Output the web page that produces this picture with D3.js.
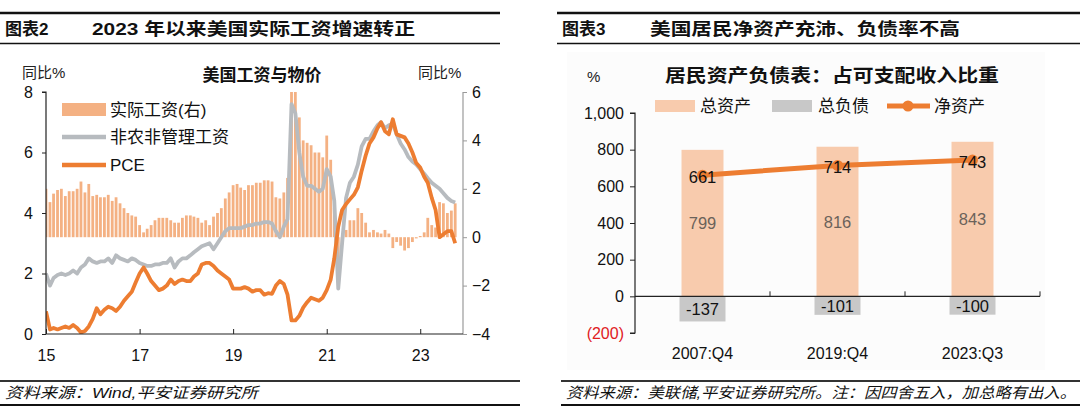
<!DOCTYPE html>
<html><head><meta charset="utf-8">
<script src="https://cdn.jsdelivr.net/npm/d3@7"></script>
<style>
html,body{margin:0;padding:0;background:#fff;}
svg text{font-family:"Liberation Sans","Noto Sans CJK SC",sans-serif;}
</style></head>
<body><svg id="c" width="1080" height="417"></svg>
<script>
// ---------- Left chart data (monthly, Jan 2015 – Oct 2023) ----------
const startMonth = "2015-01";
const pce = [0.75,0.15,0.2,0.15,0.2,0.25,0.2,0.3,0.2,0.05,0.1,0.25,
0.5,0.85,0.65,0.8,0.9,0.85,0.76,0.9,1.1,1.25,1.4,1.7,
2.0,2.2,2.0,1.75,1.6,1.45,1.5,1.6,1.8,1.65,1.75,1.8,
1.75,1.75,1.9,2.0,2.3,2.35,2.35,2.25,2.1,2.0,1.9,1.8,
1.5,1.5,1.5,1.55,1.5,1.4,1.45,1.45,1.3,1.35,1.33,1.6,
1.75,1.65,1.3,0.45,0.45,0.6,0.87,1.05,1.2,1.15,1.1,1.2,
1.45,1.8,2.5,3.55,4.1,4.3,4.45,4.6,4.85,5.4,5.9,6.3,
6.5,6.8,7.0,6.7,6.6,7.1,6.6,6.55,6.5,6.3,6.0,5.65,
5.5,5.2,5.0,4.5,4.1,3.2,3.3,3.4,3.4,3.0];
const wage = [2.0,1.6,1.85,1.95,2.0,1.95,2.0,2.1,2.0,2.2,2.3,2.5,
2.4,2.35,2.4,2.4,2.5,2.35,2.6,2.5,2.45,2.4,2.5,2.45,
2.35,2.3,2.25,2.25,2.3,2.3,2.35,2.35,2.5,2.2,2.4,2.5,
2.5,2.6,2.7,2.8,2.9,2.95,3.0,2.8,3.0,3.2,3.4,3.5,
3.5,3.5,3.5,3.55,3.6,3.6,3.65,3.65,3.7,3.7,3.65,3.4,
3.2,3.55,3.8,7.6,7.3,6.0,5.2,4.9,4.9,4.8,4.7,4.8,
5.45,5.2,4.4,1.5,3.0,4.5,5.0,5.2,5.6,6.2,6.45,6.45,
6.7,6.9,7.0,6.8,6.9,6.95,6.6,6.3,6.1,5.85,5.7,5.6,
5.45,5.3,5.15,5.0,4.9,4.8,4.65,4.5,4.4,4.35];
const realWage = [2.0,1.45,1.8,1.95,2.0,1.7,1.9,1.9,2.0,2.3,1.85,2.2,
1.7,1.75,1.65,1.65,1.75,1.5,1.65,1.4,1.2,1.0,0.9,0.85,
0.5,0.2,0.35,0.5,0.7,0.8,0.8,0.8,0.7,0.6,0.6,0.8,
0.9,0.9,0.85,0.8,0.6,0.7,0.5,0.85,1.0,1.2,1.6,1.85,
2.15,2.2,2.05,1.95,2.15,2.15,2.25,2.25,2.35,2.35,2.3,1.65,
1.6,1.85,2.45,7.2,6.9,4.95,4.0,3.9,3.8,3.5,3.5,3.3,
4.2,3.2,1.2,-1.4,-0.3,0.3,0.7,0.7,1.2,1.0,0.6,0.2,
0.3,0.2,0.15,0.3,0.15,-0.45,-0.2,-0.35,-0.55,-0.45,-0.2,-0.05,
0.05,0.2,0.8,0.5,0.4,1.45,1.4,1.0,1.1,1.4];
const leftTicks = [0,2,4,6,8];
const rightTicks = [-4,-2,0,2,4,6];
const yearTicks = ["2015-01","2017-01","2019-01","2021-01","2023-01"];
const leftLegend = ["实际工资(右)","非农非管理工资","PCE"];

// ---------- Right chart data ----------
const cats = ["2007:Q4","2019:Q4","2023:Q3"];
const assets = [799,816,843];
const liabilities = [-137,-101,-100];
const netWorth = [661,714,743];
const rightYTicks = [-200,0,200,400,600,800,1000];
const rightLegend = ["总资产","总负债","净资产"];

const C_BAR = "#F4B183", C_GRAY = "#B7BBBF", C_ORANGE = "#ED7D31";
const C_PEACH = "#F8CBAD", C_LGRAY = "#C8C8C8";

const svg = d3.select("#c");
const parse = d3.timeParse("%Y-%m");
const months = d3.timeMonth.range(parse(startMonth), d3.timeMonth.offset(parse(startMonth), pce.length));

// ---------- Headers & footers ----------
function header(x0,x1,label,title,titleX,titleLen){
  svg.append("line").attr("x1",x0).attr("x2",x1).attr("y1",13).attr("y2",13).attr("stroke","#111").attr("stroke-width",2.5);
  svg.append("line").attr("x1",x0).attr("x2",x1).attr("y1",43.5).attr("y2",43.5).attr("stroke","#111").attr("stroke-width",1.5);
  svg.append("text").attr("x",x0+5).attr("y",35).attr("font-size",17).attr("font-weight","bold").attr("fill","#111").text(label);
  svg.append("text").attr("x",titleX).attr("y",35).attr("font-size",17).attr("font-weight","bold").attr("fill","#111")
    .attr("textLength",titleLen).attr("lengthAdjust","spacingAndGlyphs").text(title);
}
header(0,500,"图表2","2023 年以来美国实际工资增速转正",92,323);
header(557,1080,"图表3","美国居民净资产充沛、负债率不高",650,310);
function footer(x0,x1,text,len){
  svg.append("line").attr("x1",x0).attr("x2",x1).attr("y1",381).attr("y2",381).attr("stroke","#333").attr("stroke-width",1.8);
  svg.append("line").attr("x1",x0).attr("x2",x1).attr("y1",405).attr("y2",405).attr("stroke","#111").attr("stroke-width",2);
  svg.append("text").attr("x",x0+5).attr("y",398).attr("font-size",15).attr("font-style","italic").attr("fill","#111")
    .attr("textLength",len).attr("lengthAdjust","spacingAndGlyphs").text(text);
}
footer(0,520,"资料来源：Wind,平安证券研究所",253);
footer(561,1080,"资料来源：美联储,平安证券研究所。注：因四舍五入，加总略有出入。",510);

// ---------- Left chart ----------
const L = {x0:46,x1:463,y0:92,y1:334};
const x = d3.scaleTime().domain([parse("2015-01"),parse("2023-12")]).range([L.x0,L.x1]);
const yL = d3.scaleLinear().domain([0,8]).range([L.y1,L.y0]);
const yR = d3.scaleLinear().domain([-4,6]).range([L.y1,L.y0]);
const gL = svg.append("g");
svg.append("defs").append("clipPath").attr("id","clipL").append("rect")
  .attr("x",L.x0).attr("y",L.y0).attr("width",L.x1-L.x0).attr("height",L.y1-L.y0);

gL.append("text").attr("x",262).attr("y",81).attr("text-anchor","middle").attr("font-size",17).attr("font-weight","bold").attr("fill","#111").text("美国工资与物价");
gL.append("text").attr("x",22).attr("y",78).attr("font-size",15).attr("fill","#222").text("同比%");
gL.append("text").attr("x",418).attr("y",78).attr("font-size",15).attr("fill","#222").text("同比%");

const plotL = gL.append("g").attr("clip-path","url(#clipL)");
plotL.selectAll("rect.bar").data(realWage).join("rect").attr("class","bar")
  .attr("x",(d,i)=>x(months[i])-1.4).attr("width",2.8)
  .attr("y",d=>d>=0?yR(d):yR(0)).attr("height",d=>Math.abs(yR(d)-yR(0)))
  .attr("fill",C_BAR);
const line = arr => d3.line().x((d,i)=>x(months[i])).y(d=>yL(d))(arr);
plotL.append("path").attr("d",line(wage)).attr("fill","none").attr("stroke",C_GRAY).attr("stroke-width",3.8).attr("stroke-linejoin","round");
plotL.append("path").attr("d",line(pce)).attr("fill","none").attr("stroke",C_ORANGE).attr("stroke-width",3.8).attr("stroke-linejoin","round");

// axes
const axL = d3.axisLeft(yL).tickValues(leftTicks).tickSize(4).tickPadding(9).tickFormat(d3.format("d"));
const gAxL = gL.append("g").attr("transform",`translate(${L.x0},0)`).call(axL);
gAxL.select(".domain").attr("stroke","#222").attr("stroke-width",1.2).attr("d",`M-4,${L.y0}H0V${L.y1}`);
gAxL.selectAll("text").attr("font-size",16).attr("fill","#111");
gAxL.selectAll(".tick line").attr("stroke","#222");

const axR = d3.axisRight(yR).tickValues(rightTicks).tickSize(4).tickPadding(5).tickFormat(d3.format("d"));
const gAxR = gL.append("g").attr("transform",`translate(${L.x1},0)`).call(axR);
gAxR.select(".domain").attr("stroke","#9a9a9a").attr("stroke-width",1.2).attr("d",`M0,${L.y0}V${L.y1}`);
gAxR.selectAll("text").attr("font-size",16).attr("fill","#111");
gAxR.selectAll(".tick line").attr("stroke","#9a9a9a");

const axB = d3.axisBottom(x).tickValues(yearTicks.map(parse)).tickSize(-5).tickPadding(16).tickFormat(d3.timeFormat("%y"));
const gAxB = gL.append("g").attr("transform",`translate(0,${L.y1})`).call(axB);
gAxB.select(".domain").attr("stroke","#222").attr("stroke-width",1.2).attr("d",`M${L.x0},0H${L.x1}`);
gAxB.selectAll("text").attr("font-size",16).attr("fill","#111");
gAxB.selectAll(".tick line").attr("stroke","#222");

// legend
const lg = gL.append("g");
lg.append("rect").attr("x",62).attr("y",103).attr("width",44).attr("height",13).attr("fill",C_BAR);
lg.append("line").attr("x1",62).attr("x2",106).attr("y1",137).attr("y2",137).attr("stroke",C_GRAY).attr("stroke-width",4.5);
lg.append("line").attr("x1",62).attr("x2",106).attr("y1",165).attr("y2",165).attr("stroke",C_ORANGE).attr("stroke-width",4.5);
leftLegend.forEach((t,i)=>{
  lg.append("text").attr("x",110).attr("y",[116,143,171][i]).attr("font-size",17).attr("fill","#111").text(t);
});

// ---------- Right chart ----------
const R = {x0:635,x1:1040,y0:113,y1:333};
const xb = d3.scaleBand().domain(cats).range([R.x0,R.x1]).padding(0);
const yb = d3.scaleLinear().domain([-200,1000]).range([R.y1,R.y0]);
const gR = svg.append("g");
gR.append("rect").attr("x",567).attr("y",52).attr("width",478).attr("height",318).attr("fill","#FCFCFC");
gR.append("text").attr("x",587).attr("y",82).attr("font-size",15).attr("fill","#222").text("%");
gR.append("text").attr("x",832).attr("y",82).attr("text-anchor","middle").attr("font-size",18).attr("font-weight","bold").attr("fill","#111")
  .attr("textLength",334).attr("lengthAdjust","spacingAndGlyphs").text("居民资产负债表：占可支配收入比重");

const bw = 42, bw2 = 46;
gR.selectAll("rect.asset").data(assets).join("rect").attr("class","asset")
  .attr("x",(d,i)=>xb(cats[i])+xb.bandwidth()/2-bw/2).attr("width",bw)
  .attr("y",d=>yb(d)).attr("height",d=>yb(0)-yb(d)).attr("fill",C_PEACH);
gR.selectAll("rect.liab").data(liabilities).join("rect").attr("class","liab")
  .attr("x",(d,i)=>xb(cats[i])+xb.bandwidth()/2-bw2/2).attr("width",bw2)
  .attr("y",yb(0)).attr("height",d=>yb(d)-yb(0)).attr("fill",C_LGRAY);

const axRY = d3.axisLeft(yb).tickValues(rightYTicks).tickSize(5).tickPadding(6)
  .tickFormat(d=>d<0?`(${-d})`:d3.format(",")(d));
const gRY = gR.append("g").attr("transform",`translate(${R.x0},0)`).call(axRY);
gRY.select(".domain").attr("stroke","#222").attr("stroke-width",1.2).attr("d",`M-5,${R.y0}H0V${R.y1}H-5`);
gRY.selectAll("text").attr("font-size",16).attr("fill",d=>d<0?"#E0201E":"#111");
gRY.selectAll(".tick line").attr("stroke","#222");

const axRX = d3.axisBottom(xb).tickSize(0).tickPadding(0).tickFormat("");
const gRX = gR.append("g").attr("transform",`translate(0,${yb(0)})`).call(axRX);
gRX.select(".domain").attr("stroke","#222").attr("stroke-width",1.2).attr("d",`M${R.x0},0H${R.x1}`);
[1,2,3].forEach(k=>gRX.append("line").attr("x1",R.x0+k*xb.bandwidth()).attr("x2",R.x0+k*xb.bandwidth()).attr("y1",0).attr("y2",-5).attr("stroke","#222"));
gR.selectAll("text.cat").data(cats).join("text").attr("class","cat")
  .attr("x",d=>xb(d)+xb.bandwidth()/2).attr("y",359).attr("text-anchor","middle").attr("font-size",16).attr("fill","#111").text(d=>d);

// net worth line
const cx = (d,i)=>xb(cats[i])+xb.bandwidth()/2;
gR.append("path").attr("d",d3.line().x(cx).y(d=>yb(d))(netWorth)).attr("fill","none").attr("stroke",C_ORANGE).attr("stroke-width",5);
gR.selectAll("circle.nw").data(netWorth).join("circle").attr("class","nw").attr("cx",cx).attr("cy",d=>yb(d)).attr("r",5.5).attr("fill",C_ORANGE);

// data labels
gR.selectAll("text.nwl").data(netWorth).join("text").attr("class","nwl")
  .attr("x",cx).attr("y",d=>yb(d)+8).attr("text-anchor","middle").attr("font-size",16.5).attr("fill","#111").text(d=>d);
gR.selectAll("text.al").data(assets).join("text").attr("class","al")
  .attr("x",cx).attr("y",d=>yb(d/2)+6).attr("text-anchor","middle").attr("font-size",16.5).attr("fill","#6b625a").text(d=>d);
gR.selectAll("text.ll").data(liabilities).join("text").attr("class","ll")
  .attr("x",cx).attr("y",d=>yb(d/2)+6).attr("text-anchor","middle").attr("font-size",16.5).attr("fill","#111").text(d=>d);

// legend
const rl = gR.append("g");
rl.append("rect").attr("x",655).attr("y",100).attr("width",40).attr("height",12).attr("fill",C_PEACH);
rl.append("text").attr("x",700).attr("y",112).attr("font-size",17).attr("fill","#111").text(rightLegend[0]);
rl.append("rect").attr("x",772).attr("y",100).attr("width",40).attr("height",12).attr("fill",C_LGRAY);
rl.append("text").attr("x",818).attr("y",112).attr("font-size",17).attr("fill","#111").text(rightLegend[1]);
rl.append("line").attr("x1",887).attr("x2",930).attr("y1",106).attr("y2",106).attr("stroke",C_ORANGE).attr("stroke-width",5);
rl.append("circle").attr("cx",908).attr("cy",106).attr("r",5.5).attr("fill",C_ORANGE);
rl.append("text").attr("x",934).attr("y",112).attr("font-size",17).attr("fill","#111").text(rightLegend[2]);
</script></body></html>
